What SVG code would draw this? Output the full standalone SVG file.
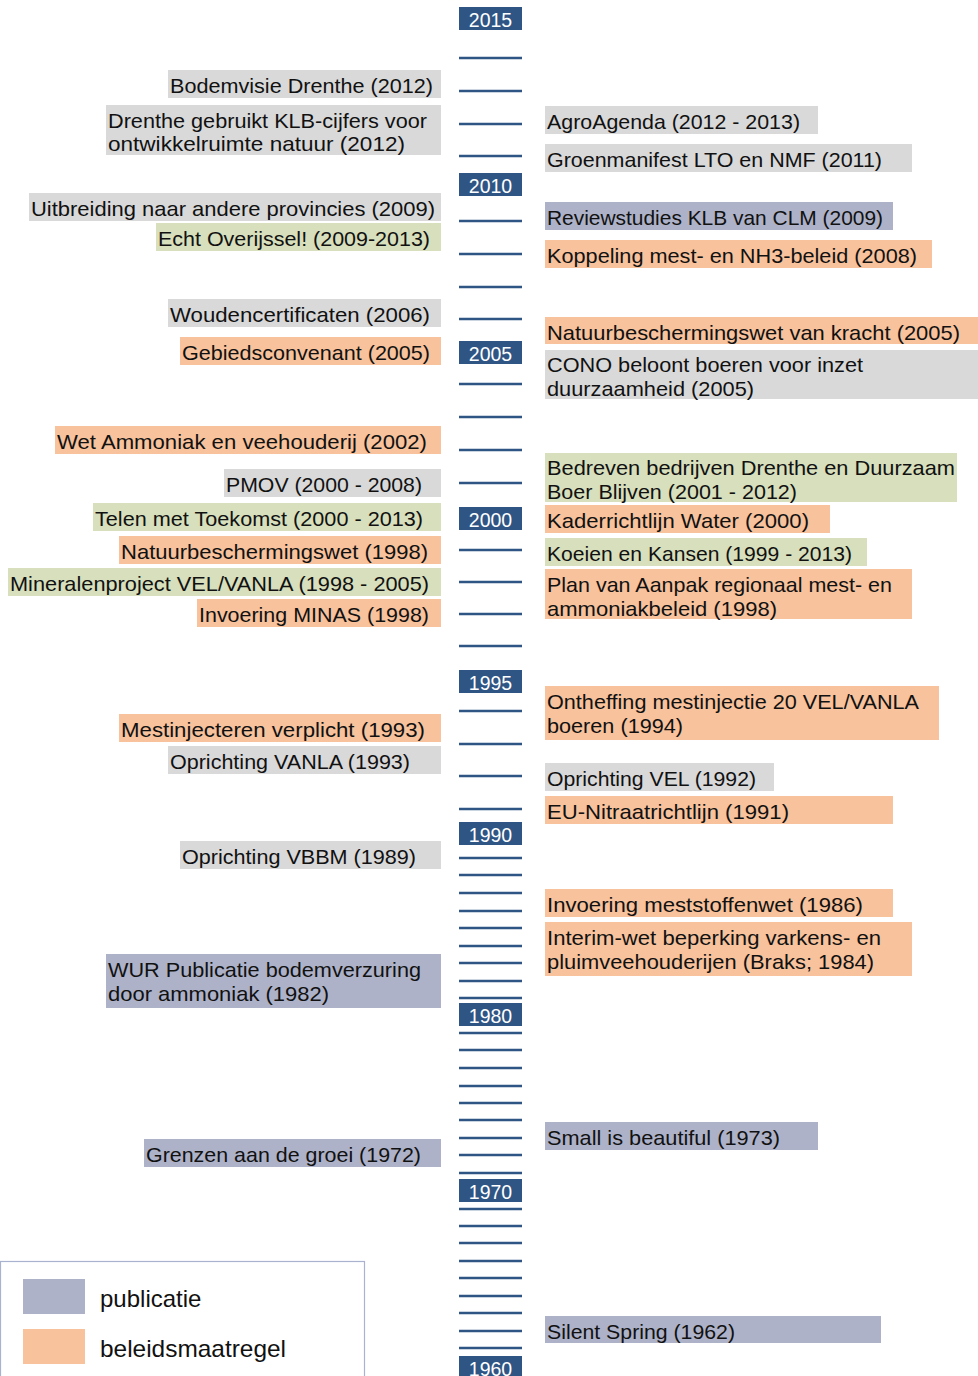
<svg xmlns="http://www.w3.org/2000/svg" width="978" height="1376" viewBox="0 0 978 1376">
<style>
.pub{fill:#adb2c8}.pol{fill:#f7c29c}.grey{fill:#d9d9da}.green{fill:#d7dfbc}
.t{font-family:"Liberation Sans",Arial,sans-serif;font-size:21px;fill:#111}
.yb{fill:#2f5585}
.yt{font-family:"Liberation Sans",Arial,sans-serif;font-size:19.5px;fill:#fff;text-anchor:middle}
.tick{stroke:#2f5585;stroke-width:2.5}
.lt{font-family:"Liberation Sans",Arial,sans-serif;font-size:24px;fill:#111}
</style>
<rect width="978" height="1376" fill="#fff"/>
<g id="connectors">
<line class="tick" x1="459" x2="522" y1="25" y2="25"/>
<line class="tick" x1="459" x2="522" y1="58" y2="58"/>
<line class="tick" x1="459" x2="522" y1="91" y2="91"/>
<line class="tick" x1="459" x2="522" y1="124" y2="124"/>
<line class="tick" x1="459" x2="522" y1="156" y2="156"/>
<line class="tick" x1="459" x2="522" y1="189" y2="189"/>
<line class="tick" x1="459" x2="522" y1="221" y2="221"/>
<line class="tick" x1="459" x2="522" y1="254" y2="254"/>
<line class="tick" x1="459" x2="522" y1="287" y2="287"/>
<line class="tick" x1="459" x2="522" y1="319" y2="319"/>
<line class="tick" x1="459" x2="522" y1="352" y2="352"/>
<line class="tick" x1="459" x2="522" y1="384" y2="384"/>
<line class="tick" x1="459" x2="522" y1="417" y2="417"/>
<line class="tick" x1="459" x2="522" y1="450" y2="450"/>
<line class="tick" x1="459" x2="522" y1="483" y2="483"/>
<line class="tick" x1="459" x2="522" y1="517" y2="517"/>
<line class="tick" x1="459" x2="522" y1="550" y2="550"/>
<line class="tick" x1="459" x2="522" y1="582" y2="582"/>
<line class="tick" x1="459" x2="522" y1="614" y2="614"/>
<line class="tick" x1="459" x2="522" y1="646" y2="646"/>
<line class="tick" x1="459" x2="522" y1="679" y2="679"/>
<line class="tick" x1="459" x2="522" y1="711" y2="711"/>
<line class="tick" x1="459" x2="522" y1="744" y2="744"/>
<line class="tick" x1="459" x2="522" y1="776" y2="776"/>
<line class="tick" x1="459" x2="522" y1="809" y2="809"/>
<line class="tick" x1="459" x2="522" y1="840" y2="840"/>
<line class="tick" x1="459" x2="522" y1="858" y2="858"/>
<line class="tick" x1="459" x2="522" y1="875" y2="875"/>
<line class="tick" x1="459" x2="522" y1="893" y2="893"/>
<line class="tick" x1="459" x2="522" y1="911" y2="911"/>
<line class="tick" x1="459" x2="522" y1="928" y2="928"/>
<line class="tick" x1="459" x2="522" y1="946" y2="946"/>
<line class="tick" x1="459" x2="522" y1="963" y2="963"/>
<line class="tick" x1="459" x2="522" y1="981" y2="981"/>
<line class="tick" x1="459" x2="522" y1="998" y2="998"/>
<line class="tick" x1="459" x2="522" y1="1016" y2="1016"/>
<line class="tick" x1="459" x2="522" y1="1033" y2="1033"/>
<line class="tick" x1="459" x2="522" y1="1050" y2="1050"/>
<line class="tick" x1="459" x2="522" y1="1068" y2="1068"/>
<line class="tick" x1="459" x2="522" y1="1086" y2="1086"/>
<line class="tick" x1="459" x2="522" y1="1103" y2="1103"/>
<line class="tick" x1="459" x2="522" y1="1120" y2="1120"/>
<line class="tick" x1="459" x2="522" y1="1138" y2="1138"/>
<line class="tick" x1="459" x2="522" y1="1155" y2="1155"/>
<line class="tick" x1="459" x2="522" y1="1173" y2="1173"/>
<line class="tick" x1="459" x2="522" y1="1192" y2="1192"/>
<line class="tick" x1="459" x2="522" y1="1209" y2="1209"/>
<line class="tick" x1="459" x2="522" y1="1226" y2="1226"/>
<line class="tick" x1="459" x2="522" y1="1243" y2="1243"/>
<line class="tick" x1="459" x2="522" y1="1261" y2="1261"/>
<line class="tick" x1="459" x2="522" y1="1278" y2="1278"/>
<line class="tick" x1="459" x2="522" y1="1296" y2="1296"/>
<line class="tick" x1="459" x2="522" y1="1313" y2="1313"/>
<line class="tick" x1="459" x2="522" y1="1331" y2="1331"/>
<line class="tick" x1="459" x2="522" y1="1348" y2="1348"/>
<line class="tick" x1="459" x2="522" y1="1366" y2="1366"/>
</g>
<g id="years">
<g id="y2015"><rect class="yb" x="459" y="7" width="63" height="23"/><text class="yt" x="490.5" y="27">2015</text></g>
<g id="y2010"><rect class="yb" x="459" y="173" width="63" height="23"/><text class="yt" x="490.5" y="193">2010</text></g>
<g id="y2005"><rect class="yb" x="459" y="341" width="63" height="23"/><text class="yt" x="490.5" y="361">2005</text></g>
<g id="y2000"><rect class="yb" x="459" y="507" width="63" height="23"/><text class="yt" x="490.5" y="527">2000</text></g>
<g id="y1995"><rect class="yb" x="459" y="670" width="63" height="23"/><text class="yt" x="490.5" y="690">1995</text></g>
<g id="y1990"><rect class="yb" x="459" y="822" width="63" height="23"/><text class="yt" x="490.5" y="842">1990</text></g>
<g id="y1980"><rect class="yb" x="459" y="1003" width="63" height="23"/><text class="yt" x="490.5" y="1023">1980</text></g>
<g id="y1970"><rect class="yb" x="459" y="1179" width="63" height="23"/><text class="yt" x="490.5" y="1199">1970</text></g>
<g id="y1960"><rect class="yb" x="459" y="1356" width="63" height="23"/><text class="yt" x="490.5" y="1376">1960</text></g>
</g>
<g id="left">
<g id="l1"><rect class="grey" x="168" y="70" width="273" height="28"/><text class="t" x="170" y="93" textLength="263" lengthAdjust="spacingAndGlyphs">Bodemvisie Drenthe (2012)</text></g>
<g id="l2"><rect class="grey" x="106" y="105" width="335" height="50"/><text class="t" x="108" y="128" textLength="319" lengthAdjust="spacingAndGlyphs">Drenthe gebruikt KLB-cijfers voor</text><text class="t" x="108" y="151" textLength="297" lengthAdjust="spacingAndGlyphs">ontwikkelruimte natuur (2012)</text></g>
<g id="l3"><rect class="grey" x="29" y="193" width="412" height="28"/><text class="t" x="31" y="216" textLength="404" lengthAdjust="spacingAndGlyphs">Uitbreiding naar andere provincies (2009)</text></g>
<g id="l4"><rect class="green" x="156" y="223" width="285" height="28"/><text class="t" x="158" y="246" textLength="272" lengthAdjust="spacingAndGlyphs">Echt Overijssel! (2009-2013)</text></g>
<g id="l5"><rect class="grey" x="168" y="299" width="273" height="28"/><text class="t" x="170" y="322" textLength="260" lengthAdjust="spacingAndGlyphs">Woudencertificaten (2006)</text></g>
<g id="l6"><rect class="pol" x="180" y="337" width="261" height="28"/><text class="t" x="182" y="360" textLength="248" lengthAdjust="spacingAndGlyphs">Gebiedsconvenant (2005)</text></g>
<g id="l7"><rect class="pol" x="55" y="426" width="386" height="28"/><text class="t" x="57" y="449" textLength="370" lengthAdjust="spacingAndGlyphs">Wet Ammoniak en veehouderij (2002)</text></g>
<g id="l8"><rect class="grey" x="224" y="469" width="217" height="28"/><text class="t" x="226" y="492" textLength="196" lengthAdjust="spacingAndGlyphs">PMOV (2000 - 2008)</text></g>
<g id="l9"><rect class="green" x="93" y="503" width="348" height="28"/><text class="t" x="95" y="526" textLength="328" lengthAdjust="spacingAndGlyphs">Telen met Toekomst (2000 - 2013)</text></g>
<g id="l10"><rect class="pol" x="119" y="536" width="322" height="28"/><text class="t" x="121" y="559" textLength="307" lengthAdjust="spacingAndGlyphs">Natuurbeschermingswet (1998)</text></g>
<g id="l11"><rect class="green" x="8" y="568" width="433" height="28"/><text class="t" x="10" y="591" textLength="419" lengthAdjust="spacingAndGlyphs">Mineralenproject VEL/VANLA (1998 - 2005)</text></g>
<g id="l12"><rect class="pol" x="197" y="599" width="244" height="28"/><text class="t" x="199" y="622" textLength="230" lengthAdjust="spacingAndGlyphs">Invoering MINAS (1998)</text></g>
<g id="l13"><rect class="pol" x="119" y="714" width="322" height="28"/><text class="t" x="121" y="737" textLength="304" lengthAdjust="spacingAndGlyphs">Mestinjecteren verplicht (1993)</text></g>
<g id="l14"><rect class="grey" x="168" y="746" width="273" height="28"/><text class="t" x="170" y="769" textLength="240" lengthAdjust="spacingAndGlyphs">Oprichting VANLA (1993)</text></g>
<g id="l15"><rect class="grey" x="180" y="841" width="261" height="28"/><text class="t" x="182" y="864" textLength="234" lengthAdjust="spacingAndGlyphs">Oprichting VBBM (1989)</text></g>
<g id="l16"><rect class="pub" x="106" y="954" width="335" height="54"/><text class="t" x="108" y="977" textLength="313" lengthAdjust="spacingAndGlyphs">WUR Publicatie bodemverzuring</text><text class="t" x="108" y="1001" textLength="221" lengthAdjust="spacingAndGlyphs">door ammoniak (1982)</text></g>
<g id="l17"><rect class="pub" x="144" y="1139" width="297" height="28"/><text class="t" x="146" y="1162" textLength="275" lengthAdjust="spacingAndGlyphs">Grenzen aan de groei (1972)</text></g>
</g>
<g id="right">
<g id="r1"><rect class="grey" x="545" y="106" width="273" height="28"/><text class="t" x="547" y="129" textLength="253" lengthAdjust="spacingAndGlyphs">AgroAgenda (2012 - 2013)</text></g>
<g id="r2"><rect class="grey" x="545" y="144" width="367" height="28"/><text class="t" x="547" y="167" textLength="335" lengthAdjust="spacingAndGlyphs">Groenmanifest LTO en NMF (2011)</text></g>
<g id="r3"><rect class="pub" x="545" y="202" width="348" height="28"/><text class="t" x="547" y="225" textLength="336" lengthAdjust="spacingAndGlyphs">Reviewstudies KLB van CLM (2009)</text></g>
<g id="r4"><rect class="pol" x="545" y="240" width="387" height="28"/><text class="t" x="547" y="263" textLength="370" lengthAdjust="spacingAndGlyphs">Koppeling mest- en NH3-beleid (2008)</text></g>
<g id="r5"><rect class="pol" x="545" y="317" width="433" height="27"/><text class="t" x="547" y="340" textLength="413" lengthAdjust="spacingAndGlyphs">Natuurbeschermingswet van kracht (2005)</text></g>
<g id="r6"><rect class="grey" x="545" y="350" width="433" height="49"/><text class="t" x="547" y="372" textLength="316" lengthAdjust="spacingAndGlyphs">CONO beloont boeren voor inzet</text><text class="t" x="547" y="396" textLength="207" lengthAdjust="spacingAndGlyphs">duurzaamheid (2005)</text></g>
<g id="r7"><rect class="green" x="545" y="453" width="412" height="49"/><text class="t" x="547" y="475" textLength="408" lengthAdjust="spacingAndGlyphs">Bedreven bedrijven Drenthe en Duurzaam</text><text class="t" x="547" y="499" textLength="250" lengthAdjust="spacingAndGlyphs">Boer Blijven (2001 - 2012)</text></g>
<g id="r8"><rect class="pol" x="545" y="505" width="285" height="28"/><text class="t" x="547" y="528" textLength="262" lengthAdjust="spacingAndGlyphs">Kaderrichtlijn Water (2000)</text></g>
<g id="r9"><rect class="green" x="545" y="538" width="322" height="28"/><text class="t" x="547" y="561" textLength="305" lengthAdjust="spacingAndGlyphs">Koeien en Kansen (1999 - 2013)</text></g>
<g id="r10"><rect class="pol" x="545" y="569" width="367" height="50"/><text class="t" x="547" y="592" textLength="345" lengthAdjust="spacingAndGlyphs">Plan van Aanpak regionaal mest- en</text><text class="t" x="547" y="616" textLength="230" lengthAdjust="spacingAndGlyphs">ammoniakbeleid (1998)</text></g>
<g id="r11"><rect class="pol" x="545" y="686" width="394" height="54"/><text class="t" x="547" y="709" textLength="372" lengthAdjust="spacingAndGlyphs">Ontheffing mestinjectie 20 VEL/VANLA</text><text class="t" x="547" y="733" textLength="136" lengthAdjust="spacingAndGlyphs">boeren (1994)</text></g>
<g id="r12"><rect class="grey" x="545" y="763" width="229" height="28"/><text class="t" x="547" y="786" textLength="209" lengthAdjust="spacingAndGlyphs">Oprichting VEL (1992)</text></g>
<g id="r13"><rect class="pol" x="545" y="796" width="348" height="28"/><text class="t" x="547" y="819" textLength="242" lengthAdjust="spacingAndGlyphs">EU-Nitraatrichtlijn (1991)</text></g>
<g id="r14"><rect class="pol" x="545" y="889" width="348" height="28"/><text class="t" x="547" y="912" textLength="316" lengthAdjust="spacingAndGlyphs">Invoering meststoffenwet (1986)</text></g>
<g id="r15"><rect class="pol" x="545" y="922" width="367" height="54"/><text class="t" x="547" y="945" textLength="334" lengthAdjust="spacingAndGlyphs">Interim-wet beperking varkens- en</text><text class="t" x="547" y="969" textLength="327" lengthAdjust="spacingAndGlyphs">pluimveehouderijen (Braks; 1984)</text></g>
<g id="r16"><rect class="pub" x="545" y="1122" width="273" height="28"/><text class="t" x="547" y="1145" textLength="233" lengthAdjust="spacingAndGlyphs">Small is beautiful (1973)</text></g>
<g id="r17"><rect class="pub" x="545" y="1316" width="336" height="27"/><text class="t" x="547" y="1339" textLength="188" lengthAdjust="spacingAndGlyphs">Silent Spring (1962)</text></g>
</g>
<g id="legend">
<rect x="0.5" y="1261.5" width="364" height="130" fill="#fff" stroke="#a9b2cf" stroke-width="1.2"/>
<rect class="pub" x="23" y="1279" width="62" height="35"/>
<text class="lt" x="100" y="1307">publicatie</text>
<rect class="pol" x="23" y="1329" width="62" height="35"/>
<text class="lt" x="100" y="1357" textLength="186" lengthAdjust="spacingAndGlyphs">beleidsmaatregel</text>
</g>
</svg>
